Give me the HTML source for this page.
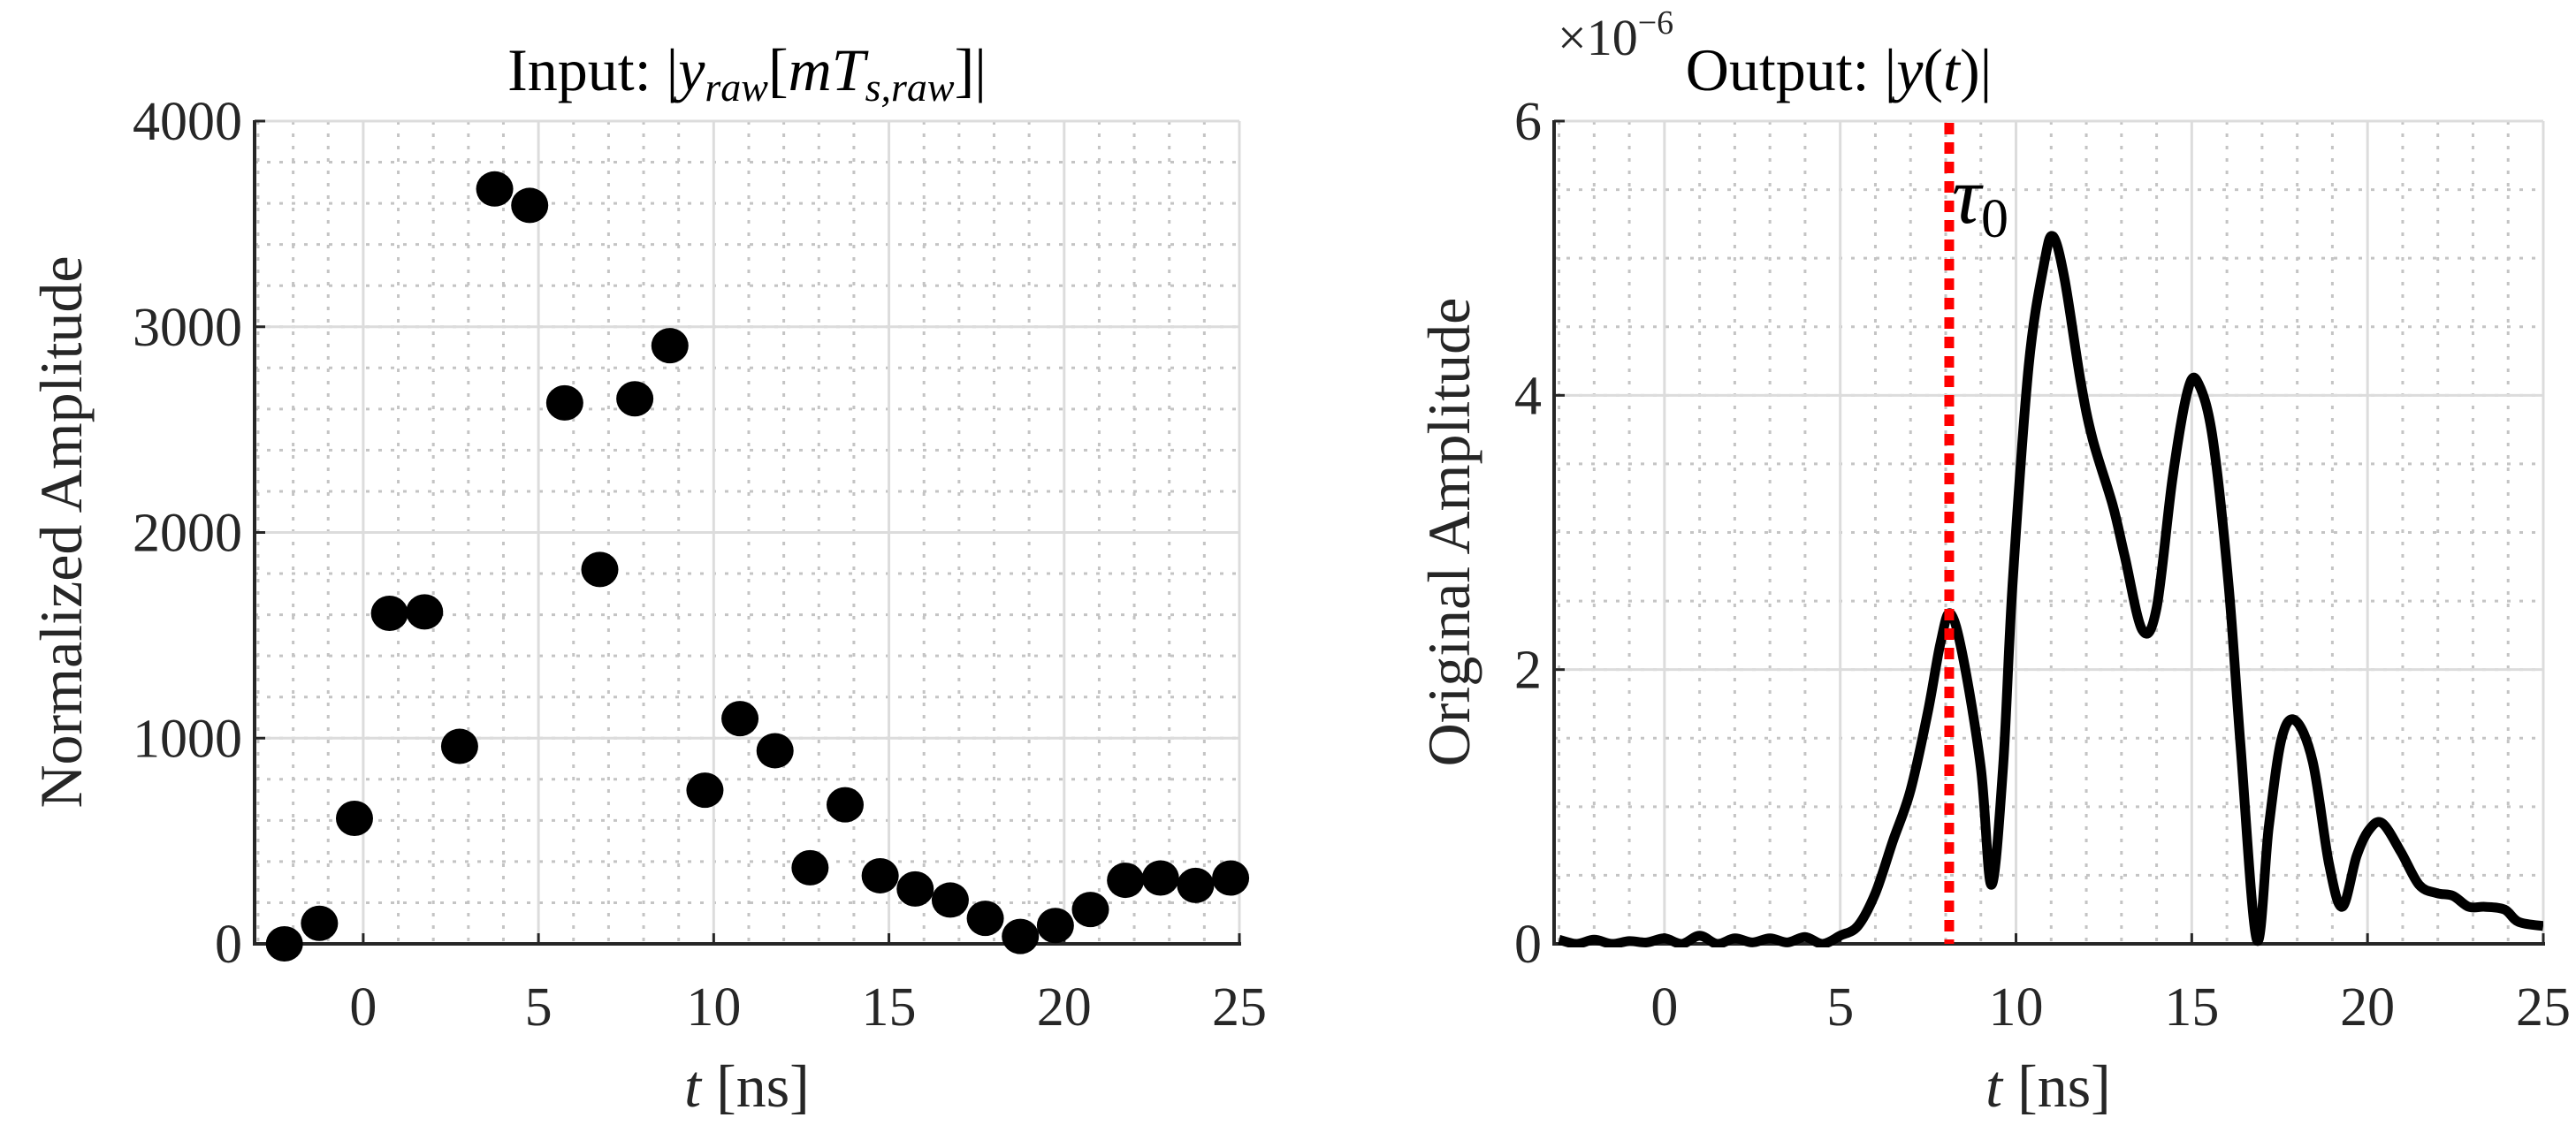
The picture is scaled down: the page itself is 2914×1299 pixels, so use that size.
<!DOCTYPE html>
<html><head><meta charset="utf-8"><style>
body{margin:0;background:#fff;}
svg{display:block;font-family:"Liberation Serif","DejaVu Serif",serif;}
</style></head><body>
<svg id="fig" width="2914" height="1299" viewBox="0 0 2914 1299"></svg>
<script>
// Left chart data
const inTimes = [-2.25,-1.25,-0.25,0.75,1.75,2.75,3.75,4.75,5.75,6.75,7.75,8.75,9.75,10.75,11.75,12.75,13.75,14.75,15.75,16.75,17.75,18.75,19.75,20.75,21.75,22.75,23.75,24.75];
const inValues = [0,100,610,1607,1614,960,3670,3590,2630,1820,2650,2908,747,1095,939,370,676,331,267,213,124,36,89,167,309,320,284,320];
const leftYTicks = [0,1000,2000,3000,4000];
const xTicks = [0,5,10,15,20,25];
// Right chart data
const outTimes = [-3,-2.5,-2,-1.5,-1,-0.5,0,0.5,1,1.5,2,2.5,3,3.5,4,4.5,5,5.5,6,6.5,7,7.5,7.85,8.13,8.5,9,9.3,9.63,9.9,10.36,10.8,11.05,11.38,11.84,12.18,12.75,13.09,13.59,14,14.46,14.9,15.2,15.6,16.05,16.39,16.85,17.19,17.55,17.94,18.44,18.9,19.28,19.69,20.04,20.42,20.95,21.47,21.97,22.43,22.88,23.34,23.9,24.3,25];
const outValues = [0.03,0.0,0.03,0.0,0.02,0.01,0.04,0.0,0.06,0.0,0.04,0.01,0.04,0.01,0.05,0.0,0.06,0.13,0.37,0.75,1.12,1.7,2.19,2.41,2.08,1.28,0.43,1.28,2.61,4.21,4.96,5.16,4.85,4.1,3.68,3.2,2.83,2.29,2.45,3.41,4.05,4.08,3.68,2.61,1.44,0.03,0.85,1.49,1.63,1.33,0.59,0.27,0.64,0.83,0.88,0.67,0.43,0.37,0.35,0.27,0.27,0.25,0.16,0.13];
const rightYTicks = [0,2,4,6];
const tau0 = 8.1;

const NS='http://www.w3.org/2000/svg';
const svg=document.getElementById('fig');
function mk(tag,attrs,parent){const e=document.createElementNS(NS,tag);for(const k in attrs)e.setAttribute(k,attrs[k]);(parent||svg).appendChild(e);return e;}

function axes(L,R,T,B,xmin,xmax,ymin,ymax,yMinorStep,yTicks,prefix){
  const g=mk('g',{});
  
  
  const sx=v=>L+(v-xmin)/(xmax-xmin)*(R-L);
  const sy=v=>B-(v-ymin)/(ymax-ymin)*(B-T);
  for(let v=Math.ceil(xmin);v<=xmax;v++){ if(v%5===0)continue;
    mk('line',{x1:sx(v),x2:sx(v),y1:T,y2:B,stroke:'#c4c4c4','stroke-width':3,'stroke-dasharray':'4 10'},g);}
  for(let v=ymin;v<=ymax+1e-9;v+=yMinorStep){
    mk('line',{x1:L,x2:R,y1:sy(v),y2:sy(v),stroke:'#c4c4c4','stroke-width':3,'stroke-dasharray':'4 10'},g);}
  xTicks.forEach(v=>mk('line',{x1:sx(v),x2:sx(v),y1:T,y2:B,stroke:'#dcdcdc','stroke-width':3},g));
  yTicks.forEach(v=>mk('line',{x1:L,x2:R,y1:sy(v),y2:sy(v),stroke:'#dcdcdc','stroke-width':3},g));
  mk('line',{x1:L,x2:L,y1:T-1,y2:B+2,stroke:'#262626','stroke-width':4},g);
  mk('line',{x1:L-2,x2:R+2,y1:B,y2:B,stroke:'#262626','stroke-width':4},g);
  xTicks.forEach(v=>{mk('line',{x1:sx(v),x2:sx(v),y1:B,y2:B-12,stroke:'#262626','stroke-width':3},g);
    const t=mk('text',{x:sx(v),y:B+92,'text-anchor':'middle','font-size':62,fill:'#262626'},g);t.textContent=v;
    
    });
  yTicks.forEach(v=>{mk('line',{x1:L,x2:L+12,y1:sy(v),y2:sy(v),stroke:'#262626','stroke-width':3},g);
    const t=mk('text',{x:L-14,y:sy(v)+21,'text-anchor':'end','font-size':62,fill:'#262626'},g);t.textContent=v;
    
    });
  return {sx,sy,g};
}

// LEFT
const A=axes(288,1402,137,1068,-3.1,25,0,4000,200,leftYTicks,'input');
inTimes.forEach((t,i)=>{const c=mk('ellipse',{cx:A.sx(t),cy:A.sy(inValues[i]),rx:21,ry:20,fill:'#000'});
  
  });

// RIGHT
const B=axes(1758,2877,137,1068,-3.14,25,0,6,0.5,rightYTicks,'output');
const cp=mk('clipPath',{id:'rc'});mk('rect',{x:1758,y:130,width:1119,height:942},cp);
const P=outTimes.map((t,i)=>[B.sx(t),B.sy(outValues[i])]);
let d='M'+P[0][0].toFixed(1)+' '+P[0][1].toFixed(1);
for(let i=0;i<P.length-1;i++){
  const p0=P[Math.max(0,i-1)],p1=P[i],p2=P[i+1],p3=P[Math.min(P.length-1,i+2)];
  const c1=[p1[0]+(p2[0]-p0[0])/6,p1[1]+(p2[1]-p0[1])/6];
  const c2=[p2[0]-(p3[0]-p1[0])/6,p2[1]-(p3[1]-p1[1])/6];
  d+='C'+c1.map(v=>v.toFixed(1)).join(' ')+' '+c2.map(v=>v.toFixed(1)).join(' ')+' '+p2.map(v=>v.toFixed(1)).join(' ');
}
const line=mk('path',{d:d,fill:'none',stroke:'#000','stroke-width':11,'stroke-linejoin':'round','clip-path':'url(#rc)'});


const tl=mk('line',{x1:B.sx(tau0),x2:B.sx(tau0),y1:139,y2:1068,stroke:'#ff0000','stroke-width':11,'stroke-dasharray':'13 9'});


</script>
<svg width="2914" height="1299" style="position:absolute;left:0;top:0" font-family="Liberation Serif, serif">
<text x="845" y="102" text-anchor="middle" font-size="68" fill="#000">Input: |<tspan font-style="italic">y</tspan><tspan font-size="46" dy="12" font-style="italic">raw</tspan><tspan dy="-12">[</tspan><tspan font-style="italic">mT</tspan><tspan font-size="46" dy="12" font-style="italic">s,raw</tspan><tspan dy="-12">]|</tspan></text>
<text x="2080" y="102" text-anchor="middle" font-size="68" fill="#000">Output: |<tspan font-style="italic">y</tspan>(<tspan font-style="italic">t</tspan>)|</text>
<text x="1762" y="62" font-size="58" fill="#262626">×10<tspan font-size="38" dy="-24">−6</tspan></text>
<text x="2208" y="252" font-size="92" font-style="italic" fill="#000">τ<tspan font-size="62" font-style="normal" dy="16">0</tspan></text>
<text transform="translate(92,602) rotate(-90)" text-anchor="middle" font-size="68" fill="#262626">Normalized Amplitude</text>
<text transform="translate(1662,602) rotate(-90)" text-anchor="middle" font-size="68" fill="#262626">Original Amplitude</text>
<text x="845" y="1252" text-anchor="middle" font-size="68" fill="#262626"><tspan font-style="italic">t</tspan> [ns]</text>
<text x="2317" y="1252" text-anchor="middle" font-size="68" fill="#262626"><tspan font-style="italic">t</tspan> [ns]</text>
</svg>
</body></html>
